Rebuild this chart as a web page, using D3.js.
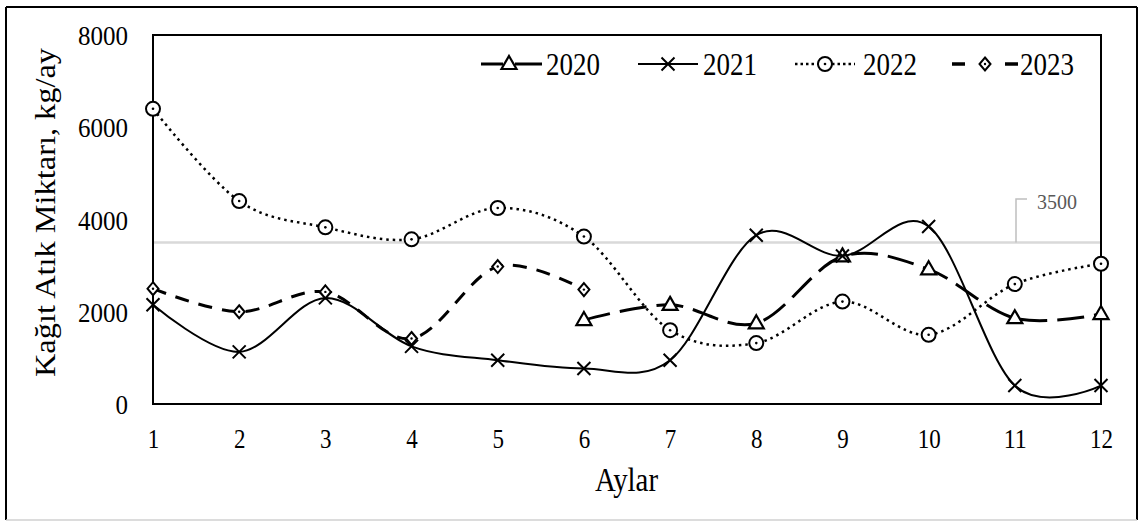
<!DOCTYPE html>
<html>
<head>
<meta charset="utf-8">
<script src="https://cdn.jsdelivr.net/npm/d3@7"></script>
<style>
  html, body { margin: 0; padding: 0; background: #fff; }
  svg { display: block; }
  text { font-family: "Liberation Serif", "Times New Roman", serif; fill: #000; }
</style>
</head>
<body>
<svg id="chart" width="1139" height="522"></svg>
<script>
// ---- data ----
const months = [1, 2, 3, 4, 5, 6, 7, 8, 9, 10, 11, 12];
const yTicks = [0, 2000, 4000, 6000, 8000];
const years = ["2020", "2021", "2022", "2023"];
const s2020 = [null, null, null, null, null, 1820, 2150, 1750, 3200, 2920, 1860, 1950];
const s2021 = [2150, 1130, 2300, 1250, 950, 770, 950, 3660, 3210, 3850, 400, 400];
const s2022 = [6400, 4400, 3830, 3570, 4250, 3630, 1600, 1320, 2220, 1500, 2600, 3040];
const s2023 = [2500, 2000, 2430, 1420, 2980, 2480, null, null, null, null, null, null];
const refValue = 3500;
const xTitle = "Aylar";
const yTitle = "Kağıt Atık Miktarı, kg/ay";

// ---- layout ----
const svg = d3.select("#chart");
const L = 153, R = 1101, T = 35, B = 404;
const x = d3.scaleLinear().domain([1, 12]).range([L, R]);
const y = d3.scaleLinear().domain([0, 8000]).range([B, T]);

// outer frame
svg.append("line").attr("x1", 6).attr("y1", 7).attr("x2", 1137).attr("y2", 7).attr("stroke", "#000").attr("stroke-width", 2);
svg.append("line").attr("x1", 6).attr("y1", 7).attr("x2", 6).attr("y2", 520).attr("stroke", "#000").attr("stroke-width", 2);
svg.append("line").attr("x1", 1137).attr("y1", 7).attr("x2", 1137).attr("y2", 520).attr("stroke", "#000").attr("stroke-width", 2);
svg.append("line").attr("x1", 6).attr("y1", 520).attr("x2", 1137).attr("y2", 520).attr("stroke", "#d0d0d0").attr("stroke-width", 1.5);

// reference line 3500
svg.append("line")
  .attr("x1", L).attr("x2", R)
  .attr("y1", y(refValue)).attr("y2", y(refValue))
  .attr("stroke", "#d9d9d9").attr("stroke-width", 2.5);
svg.append("path")
  .attr("d", `M1016,${y(refValue)} V199 H1027`)
  .attr("fill", "none").attr("stroke", "#bfbfbf").attr("stroke-width", 1.5);
svg.append("text")
  .attr("x", 1037).attr("y", 209)
  .attr("font-size", 21).attr("textLength", 40).attr("lengthAdjust", "spacingAndGlyphs")
  .style("fill", "#595959")
  .text(String(refValue));

// plot frame
svg.append("rect")
  .attr("x", L).attr("y", T).attr("width", R - L).attr("height", B - T)
  .attr("fill", "none").attr("stroke", "#000").attr("stroke-width", 2);

// y axis tick labels
const yAxis = d3.axisLeft(y).tickValues(yTicks).tickSize(0).tickPadding(25).tickFormat(d3.format("d"));
const gy = svg.append("g").attr("transform", `translate(${L},0)`).call(yAxis);
gy.select(".domain").remove();
gy.selectAll("text")
  .attr("font-family", "Liberation Serif").attr("font-size", 28)
  .attr("dy", "0.34em")
  .each(function(d) {
    const n = String(d).length;
    d3.select(this).attr("textLength", n * 12.5).attr("lengthAdjust", "spacingAndGlyphs");
  });

// x axis tick labels
const xAxis = d3.axisBottom(x).tickValues(months).tickSize(0).tickPadding(0).tickFormat(d3.format("d"));
const gx = svg.append("g").attr("transform", `translate(0,${B})`).call(xAxis);
gx.select(".domain").remove();
gx.selectAll("text")
  .attr("font-family", "Liberation Serif").attr("font-size", 27)
  .attr("dy", null).attr("y", 44)
  .each(function(d) {
    const n = String(d).length;
    d3.select(this).attr("textLength", n * 11.5).attr("lengthAdjust", "spacingAndGlyphs");
  });

// axis titles
svg.append("text")
  .attr("x", 626.5).attr("y", 491)
  .attr("text-anchor", "middle")
  .attr("font-size", 33).attr("textLength", 63).attr("lengthAdjust", "spacingAndGlyphs")
  .text(xTitle);
svg.append("text")
  .attr("transform", "translate(55,212.5) rotate(-90)")
  .attr("text-anchor", "middle")
  .attr("font-size", 30).attr("textLength", 329).attr("lengthAdjust", "spacingAndGlyphs")
  .text(yTitle);

// series
const seriesData = [s2020, s2021, s2022, s2023];
const styles = [
  { width: 3, dash: "27,10", marker: "triangle" },
  { width: 2, dash: null, marker: "cross" },
  { width: 2.5, dash: "2.5,4", marker: "circle" },
  { width: 3, dash: "14,10", marker: "diamond" }
];

const line = d3.line()
  .defined(d => d.v != null)
  .x(d => x(d.m))
  .y(d => y(d.v))
  .curve(d3.curveCardinal.tension(0));

function drawMarker(g, type, cx, cy) {
  if (type === "triangle") {
    g.append("path")
      .attr("d", `M${cx},${cy - 8} L${cx + 7.5},${cy + 5} L${cx - 7.5},${cy + 5} Z`)
      .attr("fill", "#fff").attr("stroke", "#000").attr("stroke-width", 2.2);
  } else if (type === "cross") {
    g.append("path")
      .attr("d", `M${cx - 6.5},${cy - 6.5} L${cx + 6.5},${cy + 6.5} M${cx - 6.5},${cy + 6.5} L${cx + 6.5},${cy - 6.5}`)
      .attr("stroke", "#000").attr("stroke-width", 2);
  } else if (type === "circle") {
    g.append("circle").attr("cx", cx).attr("cy", cy).attr("r", 7)
      .attr("fill", "#fff").attr("stroke", "#000").attr("stroke-width", 2);
    g.append("circle").attr("cx", cx).attr("cy", cy).attr("r", 1.3).attr("fill", "#000");
  } else if (type === "diamond") {
    g.append("path")
      .attr("d", `M${cx},${cy - 6.5} L${cx + 5.5},${cy} L${cx},${cy + 6.5} L${cx - 5.5},${cy} Z`)
      .attr("fill", "#fff").attr("stroke", "#000").attr("stroke-width", 2);
    g.append("circle").attr("cx", cx).attr("cy", cy).attr("r", 1.2).attr("fill", "#000");
  }
}

seriesData.forEach((vals, i) => {
  const st = styles[i];
  const pts = months.map((m, j) => ({ m: m, v: vals[j] }));
  const g = svg.append("g");
  g.append("path")
    .attr("d", line(pts))
    .attr("fill", "none").attr("stroke", "#000")
    .attr("stroke-width", st.width)
    .attr("stroke-dasharray", st.dash);
  pts.filter(p => p.v != null).forEach(p => drawMarker(g, st.marker, x(p.m), y(p.v)));
});

// legend
const legendY = 64;
const legendItems = [
  { x1: 481, x2: 542, mx: 509, tx: 546 },
  { x1: 638, x2: 698, mx: 668, tx: 703 },
  { x1: 795, x2: 855, mx: 825, tx: 863 },
  { x1: 952, x2: 1018, mx: 985, tx: 1020 }
];
legendItems.forEach((it, i) => {
  const st = styles[i];
  const g = svg.append("g");
  if (i === 0) {
    g.append("path").attr("d", `M${it.x1},${legendY} H${it.mx - 6} M${it.mx + 6},${legendY} H${it.x2}`)
      .attr("stroke", "#000").attr("stroke-width", 3);
  } else if (i === 1) {
    g.append("line").attr("x1", it.x1).attr("x2", it.x2).attr("y1", legendY).attr("y2", legendY)
      .attr("stroke", "#000").attr("stroke-width", 2);
  } else if (i === 2) {
    g.append("path").attr("d", `M${it.x1},${legendY} H${it.mx - 7} M${it.mx + 7},${legendY} H${it.x2}`)
      .attr("stroke", "#000").attr("stroke-width", 2.5).attr("stroke-dasharray", "2.5,3");
  } else {
    g.append("path").attr("d", `M${it.x1},${legendY} H${it.x1 + 13} M${it.x2 - 13},${legendY} H${it.x2}`)
      .attr("stroke", "#000").attr("stroke-width", 3.5);
  }
  drawMarker(g, st.marker, it.mx, legendY);
  g.append("text")
    .attr("x", it.tx).attr("y", legendY + 11)
    .attr("font-size", 32).attr("textLength", 54).attr("lengthAdjust", "spacingAndGlyphs")
    .text(years[i]);
});
</script>
</body>
</html>
